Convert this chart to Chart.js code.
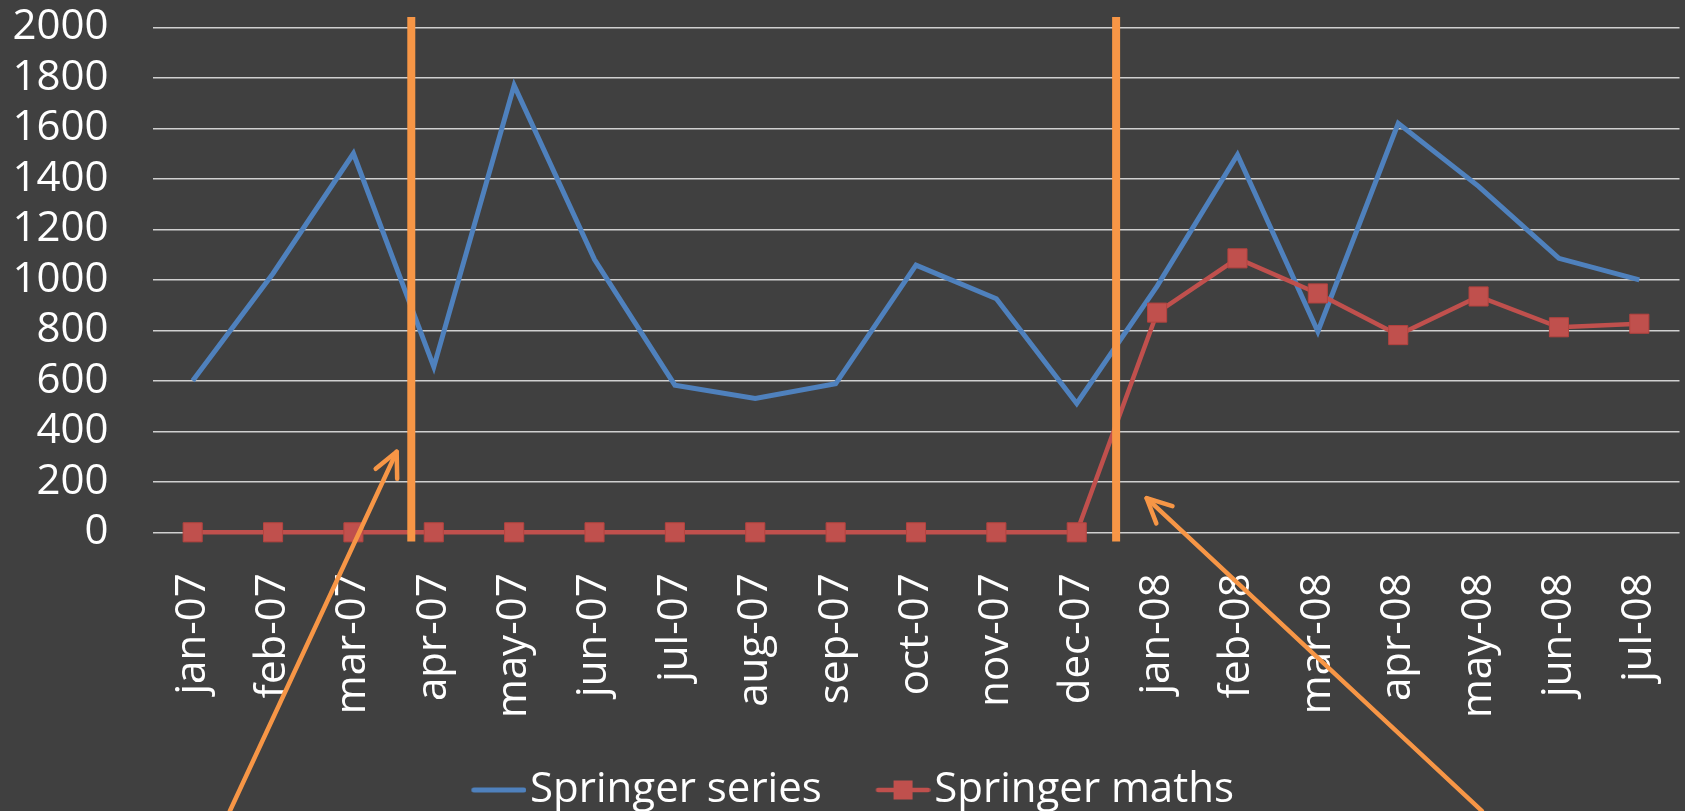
<!DOCTYPE html>
<html>
<head>
<meta charset="utf-8">
<script src="https://cdn.jsdelivr.net/npm/chart.js@4"></script>
<style>
html,body{margin:0;padding:0;background:#404040;overflow:hidden}
#wrap{width:1685px;height:811px;position:relative}
canvas{display:block}
</style>
</head>
<body>
<div id="wrap"><canvas id="c" width="1685" height="811"></canvas></div>
<script>
// ---- data ----
const categories = ['jan-07','feb-07','mar-07','apr-07','may-07','jun-07','jul-07','aug-07','sep-07','oct-07','nov-07','dec-07','jan-08','feb-08','mar-08','apr-08','may-08','jun-08','jul-08'];
const springerSeries = [600,1025,1500,655,1770,1080,583,530,588,1058,925,510,975,1495,795,1620,1370,1085,1000];
const springerMaths  = [0,0,0,0,0,0,0,0,0,0,0,0,870,1085,946,781,934,812,826];
const seriesNames = ['Springer series','Springer maths'];
const yTickValues = [0,200,400,600,800,1000,1200,1400,1600,1800,2000];
const yTickLabels = ['0','200','400','600','800','1000','1200','1400','1600','1800','2000'];
// annotations (category index, value)
const markerLines = [2.72, 11.49];
const markerTop = 2041, markerBottom = -36;
const arrowTails = [[0.464,-1103],[16.04,-1103]];
const arrowTips  = [[2.538,319],[11.87,135]];

// ---- styles ----
const BLUE = '#4F81BD', RED = '#C0504D', ORANGE = '#F79646', BG = '#404040';
const FONT = "'Open Sans', sans-serif";
const LEGEND_BOX = 81.5, LEGEND_PAD = 10, LEGEND_SHIFT = -15;

function legendIcon(color, withMarker, lw){
  const c = document.createElement('canvas');
  c.width = LEGEND_BOX + 35; c.height = 20;
  const g = c.getContext('2d');
  const x0 = c.width - 55;
  g.strokeStyle = color; g.lineWidth = lw; g.lineCap = 'round';
  g.beginPath(); g.moveTo(x0+2.5,10); g.lineTo(x0+52.5,10); g.stroke();
  if (withMarker){ g.fillStyle = color; g.fillRect(x0+27.5-9.5, 0.5, 19, 19); }
  return c;
}
const icons = [legendIcon(BLUE,false,5), legendIcon(RED,true,4.5)];

const bgPlugin = {
  id:'bg',
  afterLayout(chart){
    if (chart.legend){ chart.legend.left += LEGEND_SHIFT; chart.legend.right += LEGEND_SHIFT; }
  },
  beforeDraw(chart){
    const {ctx,width,height} = chart;
    ctx.save(); ctx.fillStyle = BG; ctx.fillRect(0,0,width,height); ctx.restore();
  }
};

const annotPlugin = {
  id:'annot',
  afterDraw(chart){
    const {ctx, scales:{x,y}} = chart;
    ctx.save();
    ctx.strokeStyle = ORANGE;
    ctx.lineWidth = 8; ctx.lineCap = 'butt';
    markerLines.forEach(v=>{
      const px = x.getPixelForValue(v);
      ctx.beginPath();
      ctx.moveTo(px, y.getPixelForValue(markerTop));
      ctx.lineTo(px, y.getPixelForValue(markerBottom));
      ctx.stroke();
    });
    ctx.lineWidth = 4.5; ctx.lineCap = 'round'; ctx.lineJoin = 'round';
    arrowTips.forEach((tip,i)=>{
      const tail = arrowTails[i];
      const x0 = x.getPixelForValue(tail[0]), y0 = y.getPixelForValue(tail[1]);
      const x1 = x.getPixelForValue(tip[0]),  y1 = y.getPixelForValue(tip[1]);
      ctx.beginPath(); ctx.moveTo(x0,y0); ctx.lineTo(x1,y1); ctx.stroke();
      const ang = Math.atan2(y0-y1, x0-x1);
      const L = 27, spread = 26*Math.PI/180;
      ctx.beginPath();
      ctx.moveTo(x1 + L*Math.cos(ang+spread), y1 + L*Math.sin(ang+spread));
      ctx.lineTo(x1, y1);
      ctx.lineTo(x1 + L*Math.cos(ang-spread), y1 + L*Math.sin(ang-spread));
      ctx.stroke();
    });
    ctx.restore();
  }
};

Chart.defaults.font.family = FONT;
Chart.defaults.font.size = 42;
Chart.defaults.color = '#ffffff';

new Chart(document.getElementById('c'), {
  type:'line',
  data:{
    labels: categories,
    datasets:[
      {label: seriesNames[0], data: springerSeries, borderColor: BLUE, backgroundColor: BLUE,
       borderWidth: 5, pointRadius: 0, pointHoverRadius: 0, tension: 0, order: 1, clip: false},
      {label: seriesNames[1], data: springerMaths, borderColor: RED, backgroundColor: RED,
       borderWidth: 4.5, pointStyle: 'rect', pointRadius: 13.5, pointHoverRadius: 13.5,
       pointBackgroundColor: RED, pointBorderColor: '#B4433F', pointBorderWidth: 1,
       tension: 0, order: 0, clip: false}
    ]
  },
  options:{
    responsive:false,
    animation:false,
    events:[],
    layout:{autoPadding:false, padding:{left:12, right:5.5, top:27.3, bottom:-10}},
    scales:{
      x:{
        type:'category',
        offset:true,
        grid:{display:false, drawTicks:false},
        border:{display:false},
        ticks:{color:'#ffffff', font:{size:42, family:FONT}, maxRotation:90, minRotation:90, autoSkip:false, padding:41},
        afterFit(s){ s.height = 226.7; s.paddingLeft = 0; s.paddingRight = 0; }
      },
      y:{
        min:yTickValues[0], max:yTickValues[yTickValues.length-1],
        grid:{color:'#d0d0d0', lineWidth:1.5, drawTicks:false},
        border:{display:false},
        ticks:{stepSize:yTickValues[1]-yTickValues[0], autoSkip:false, color:'#ffffff', font:{size:42, family:FONT}, padding:44,
          callback:(v)=>{ const i = yTickValues.indexOf(v); return i >= 0 ? yTickLabels[i] : ''; }},
        afterFit(s){ s.width = 140.5; s.paddingTop = 0; s.paddingBottom = 0; }
      }
    },
    plugins:{
      tooltip:{enabled:false},
      legend:{
        position:'bottom',
        labels:{
          usePointStyle:true,
          pointStyleWidth:LEGEND_BOX,
          padding:LEGEND_PAD,
          color:'#ffffff',
          font:{size:42, family:FONT},
          generateLabels(chart){
            const items = Chart.defaults.plugins.legend.labels.generateLabels(chart);
            items.forEach(it=>{ it.pointStyle = icons[it.datasetIndex]; });
            return items;
          },
          sort:(a,b)=>a.datasetIndex-b.datasetIndex
        }
      }
    }
  },
  plugins:[bgPlugin, annotPlugin]
});
</script>
</body>
</html>
